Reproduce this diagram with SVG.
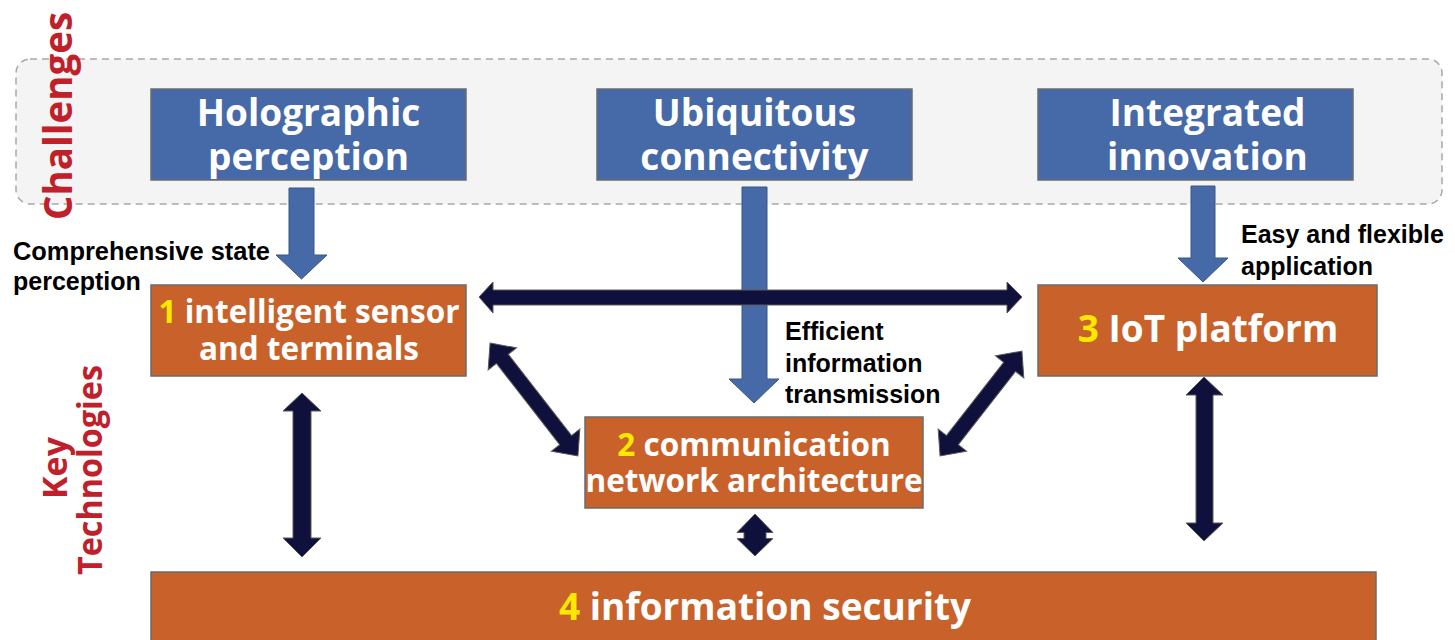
<svg xmlns="http://www.w3.org/2000/svg" width="1455" height="640" viewBox="0 0 1455 640">
<style>
.blue{fill:#4669a8;stroke:#6b6b6b;stroke-width:1.5}
.orange{fill:#c8622a;stroke:#6b6b6b;stroke-width:1.5}
.bt{font-family:"Open Sans","Noto Sans",sans-serif;font-weight:bold;fill:#ffffff;text-anchor:middle}
.num{fill:#ffe800}
.lbl{font-family:"Liberation Sans",Arial,sans-serif;font-weight:bold;font-size:25px;fill:#000000}
.red{font-family:"Open Sans","Noto Sans",sans-serif;font-weight:bold;fill:#c0202a;text-anchor:middle}
.barrow{fill:#4669a8;stroke:#3b5685;stroke-width:1}
.darrow{fill:#10103c;stroke:#5a5a5a;stroke-width:1}
</style>
<rect width="1455" height="640" fill="#ffffff"/>
<g id="challenges-band">
<rect x="16" y="59" width="1426" height="145" rx="14" fill="#f3f4f3" stroke="#a8a8a8" stroke-width="1.5" stroke-dasharray="7,5"/>
</g>
<g id="connectors">
<polygon class="barrow" points="289,188 314,188 314,255 327,255 301.5,279 276,255 289,255"/>
<polygon class="barrow" points="742,187 767,187 767,379 779,379 754,403 729,379 742,379"/>
<polygon class="barrow" points="1191,186 1215,186 1215,258 1228,258 1203,282 1178,258 1191,258"/>
<polygon class="darrow" points="479,297 493,282 493,290 1007,290 1007,282 1022,297 1007,313 1007,305 493,305 493,313"/>
<polygon class="darrow" transform="translate(534,399.5) rotate(52.1)" points="-71.5,0 -51.5,-18 -51.5,-7.5 51.5,-7.5 51.5,-18 71.5,0 51.5,18 51.5,7.5 -51.5,7.5 -51.5,18"/>
<polygon class="darrow" transform="translate(981,403.5) rotate(-52)" points="-66.5,0 -46.5,-18 -46.5,-7.5 46.5,-7.5 46.5,-18 66.5,0 46.5,18 46.5,7.5 -46.5,7.5 -46.5,18"/>
<polygon class="darrow" points="302,393 321,411 311,411 311,538 321,538 302,557 283,538 293,538 293,411 283,411"/>
<polygon class="darrow" points="1204,377 1223,395 1213,395 1213,523 1223,523 1204,541 1186,523 1196,523 1196,395 1186,395"/>
<polygon class="darrow" points="755,514 773,532.5 766,532.5 766,538.5 773,538.5 755,556 737,538.5 744,538.5 744,532.5 737,532.5"/>
</g>
<g id="holographic">
<rect class="blue" x="151" y="89" width="315" height="91"/>
<text class="bt" font-size="37" x="308.5" y="126">Holographic</text>
<text class="bt" font-size="37" x="308.5" y="170">perception</text>
</g>
<g id="ubiquitous">
<rect class="blue" x="597" y="89" width="315" height="91"/>
<text class="bt" font-size="37" x="754.5" y="126">Ubiquitous</text>
<text class="bt" font-size="37" x="754.5" y="170">connectivity</text>
</g>
<g id="integrated">
<rect class="blue" x="1038" y="89" width="315" height="91"/>
<text class="bt" font-size="37" x="1207.5" y="126">Integrated</text>
<text class="bt" font-size="37" x="1207.5" y="170">innovation</text>
</g>
<g id="sensor">
<rect class="orange" x="151" y="285" width="315" height="91"/>
<text class="bt" font-size="31.5" x="309" y="323"><tspan class="num">1</tspan> intelligent sensor</text>
<text class="bt" font-size="31.5" x="309" y="360">and terminals</text>
</g>
<g id="iot">
<rect class="orange" x="1038" y="285" width="339" height="91"/>
<text class="bt" font-size="37" x="1208" y="342"><tspan class="num">3</tspan> IoT platform</text>
</g>
<g id="network">
<rect class="orange" x="585" y="417" width="338" height="91"/>
<text class="bt" font-size="31.5" x="754" y="456"><tspan class="num">2</tspan> communication</text>
<text class="bt" font-size="31.5" x="754" y="492">network architecture</text>
</g>
<g id="security">
<rect class="orange" x="151" y="572" width="1225" height="80"/>
<text class="bt" font-size="37" x="765" y="620"><tspan class="num">4</tspan> information security</text>
</g>
<g id="labels">
<text class="lbl" x="13" y="260" textLength="257" lengthAdjust="spacingAndGlyphs">Comprehensive state</text>
<text class="lbl" x="13" y="290">perception</text>
<text class="lbl" x="785" y="340">Efficient</text>
<text class="lbl" x="785" y="372">information</text>
<text class="lbl" x="785" y="403">transmission</text>
<text class="lbl" x="1241" y="243">Easy and flexible</text>
<text class="lbl" x="1241" y="275">application</text>
<text class="red" font-size="40" transform="translate(72,116) rotate(-90)" textLength="208" lengthAdjust="spacingAndGlyphs">Challenges</text>
<text class="red" font-size="34" transform="translate(67,468) rotate(-90)">Key</text>
<text class="red" font-size="34" transform="translate(102,470) rotate(-90)" textLength="210" lengthAdjust="spacingAndGlyphs">Technologies</text>
</g>
</svg>
